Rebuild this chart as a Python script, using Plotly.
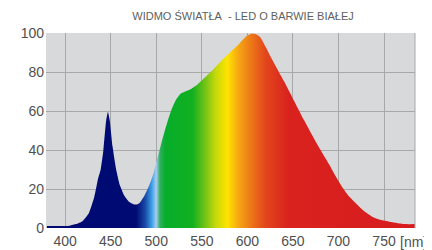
import plotly.graph_objects as go

# Spectrum (wavelength nm -> relative intensity %)
wavelength = [380, 395, 405, 412, 419, 426, 432, 436, 439, 442, 445, 447, 449, 452, 456, 460,
              465, 470, 475, 478, 482, 487, 492, 497, 502, 507, 512, 517, 522, 527, 532, 537,
              545, 553, 562, 571, 580, 590, 598, 604, 609, 614, 620, 626, 640, 662,
              676, 690, 697, 704, 711, 719, 728, 737, 746, 756, 765, 774, 784]
intensity = [1.0, 1.0, 1.2, 2.0, 3.5, 7.6, 16, 25, 30, 40, 55, 59.5, 55, 42, 30, 22,
             16.5, 13.5, 12.2, 12, 13, 16.5, 21.5, 28, 37, 46, 54, 61, 66, 69, 70, 71,
             73.5, 77, 81, 85.5, 89.6, 94, 98, 99.6, 99.5, 98, 93, 87.5, 75.5, 55.5,
             43.5, 32.5, 26.5, 21, 16.5, 12.7, 8.7, 5.8, 4.2, 3.2, 2.5, 2.0, 2.0]

# Colour of light along the wavelength axis
color_nm = [380, 478, 488, 495, 500, 504, 510, 540, 555, 565, 578, 590, 605, 620, 645, 785]
color_hex = ["#000a73", "#000a73", "#1a4aa8", "#3a9ee6", "#a8ccf2", "#30b060", "#06ad2a",
             "#12b020", "#7cc514", "#c4d80a", "#ffe400", "#f6a812", "#ec7418", "#e2461c",
             "#d9221e", "#d81c1e"]

x_ticks = [400, 450, 500, 550, 600, 650, 700, 750]
y_ticks = [0, 20, 40, 60, 80, 100]
title_text = "WIDMO ŚWIATŁA\u00a0 - LED O BARWIE BIAŁEJ"

g0, g1 = color_nm[0], color_nm[-1]
colorscale = [[(n - g0) / (g1 - g0), c] for n, c in zip(color_nm, color_hex)]

fig = go.Figure()
fig.add_trace(go.Scatter(
    x=wavelength, y=intensity, mode="lines",
    line=dict(width=0, shape="spline", smoothing=0.5),
    fill="tozeroy",
    fillgradient=dict(type="horizontal", colorscale=colorscale, start=g0, stop=g1),
    hoverinfo="skip", showlegend=False,
))

# page body adds an 8px offset, so the figure is 424x242
W, H = 424, 242
font = dict(family="Liberation Sans, Arial, sans-serif", size=14, color="#505050")
fig.update_layout(
    width=W, height=H,
    margin=dict(l=38, r=17, t=25, b=22),
    paper_bgcolor="white", plot_bgcolor="#d8d9db",
    font=font,
    title=dict(text=title_text, x=235 / W, xref="container", xanchor="center",
               y=1 - 8 / H, yref="container", yanchor="middle",
               font=dict(family="Liberation Sans, Arial, sans-serif", size=11, color="#606060")),
    xaxis=dict(range=[379, 784], tickvals=x_ticks, showgrid=True, gridcolor="#a8a8a8",
               gridwidth=1, zeroline=False, showline=False, ticks="", fixedrange=True,
               automargin=False, ticklabelstandoff=3),
    yaxis=dict(range=[0, 100], tickvals=y_ticks, showgrid=True, gridcolor="#a8a8a8",
               gridwidth=1, zeroline=False, showline=False, ticks="", fixedrange=True,
               automargin=False, ticklabelstandoff=1),
    shapes=[dict(type="line", xref="paper", yref="paper", x0=1, x1=1, y0=0, y1=1,
                 line=dict(color="#a8a8a8", width=1))],
    annotations=[dict(text="[nm]", x=768, xref="x", y=0, yref="paper", xanchor="left",
                      yanchor="top", yshift=-4, xshift=-2, showarrow=False, font=font)],
)

fig.write_html("out.html")
